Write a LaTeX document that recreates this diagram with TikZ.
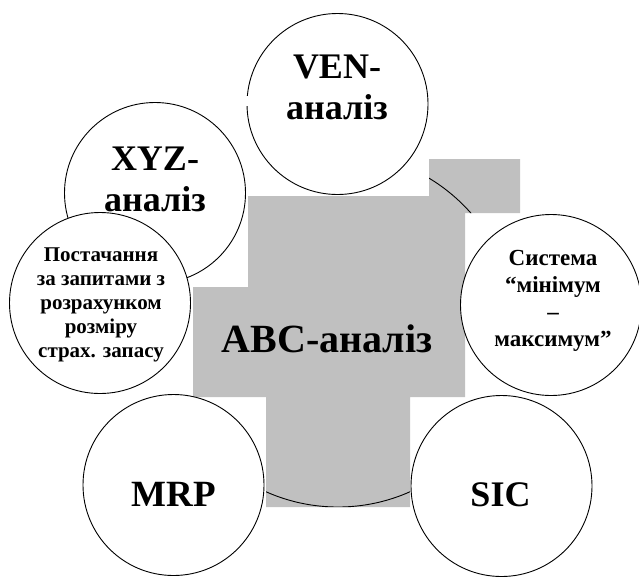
\documentclass[tikz,border=0pt]{standalone}
\usepackage{fontspec}
\setmainfont{Liberation Serif}
\definecolor{shade}{RGB}{192,192,192}
\begin{document}
\begin{tikzpicture}[x=1pt,y=-1pt,
  sat/.style={circle,draw=black,fill=white,line width=0.9pt,minimum size=181pt,inner sep=0pt},
  lbl/.style={anchor=base,inner sep=0pt,font=\bfseries},
  big/.style={lbl,font=\bfseries\fontsize{36}{41}\selectfont},
  small/.style={lbl,font=\bfseries\fontsize{21}{24}\selectfont},
  mid/.style={lbl,font=\bfseries\fontsize{23}{27}\selectfont}]
\useasboundingbox (0,0) rectangle (639,576);
% gray shading of the central text
\path[fill=shade] (193,287) -- (248,287) -- (248,196) -- (429,196) -- (429,159)
  -- (520,159) -- (520,213) -- (465,213) -- (465,397) -- (410,397) -- (410,507)
  -- (266,507) -- (266,397) -- (193,397) -- cycle;
% central circle, visible only over the shading
\begin{scope}
\clip (193,287) -- (248,287) -- (248,196) -- (429,196) -- (429,159)
  -- (520,159) -- (520,213) -- (465,213) -- (465,397) -- (410,397) -- (410,507)
  -- (266,507) -- (266,397) -- (193,397) -- cycle;
\node[circle,draw=black,line width=0.9pt,minimum size=354pt,inner sep=0pt] (centre) at (338,330) {};
\end{scope}
\node[lbl,font=\bfseries\fontsize{40}{46}\selectfont] (abc) at (327,352) {ABC-аналіз};
% satellites
\node[sat] (xyz) at (155,193) {};
\node[sat] (post) at (100,303) {};
\node[sat] (ven) at (337.5,104) {};
\node[sat] (sys) at (551,305) {};
\node[sat] (mrp) at (173.5,485) {};
\node[sat] (sic) at (501.5,486) {};
\fill[white] (243,96) rectangle (249,106);
% texts
\node[big] (ven1) at (337,78) {VEN-};
\node[big] (ven2) at (337,119) {аналіз};
\node[big] (xyz1) at (155,170) {XYZ-};
\node[big] (xyz2) at (155,211) {аналіз};
\node[small] (post1) at (101,261) {Постачання};
\node[small] (post2) at (101,285) {за запитами з};
\node[small] (post3) at (101,309) {розрахунком};
\node[small] (post4) at (101,333) {розміру};
\node[small] (post5) at (101,357) {страх. запасу};
\node[mid] (sys1) at (553,265) {Система};
\node[mid] (sys2) at (553,292) {“мінімум};
\node[mid] (sys3) at (553,319) {–};
\node[mid] (sys4) at (553,346) {максимум”};
\node[lbl,font=\bfseries\fontsize{37}{42}\selectfont] (mrpt) at (174,506) {MRP};
\node[lbl,font=\bfseries\fontsize{36}{41}\selectfont] (sict) at (500.5,506) {SIC};
\end{tikzpicture}
\end{document}
